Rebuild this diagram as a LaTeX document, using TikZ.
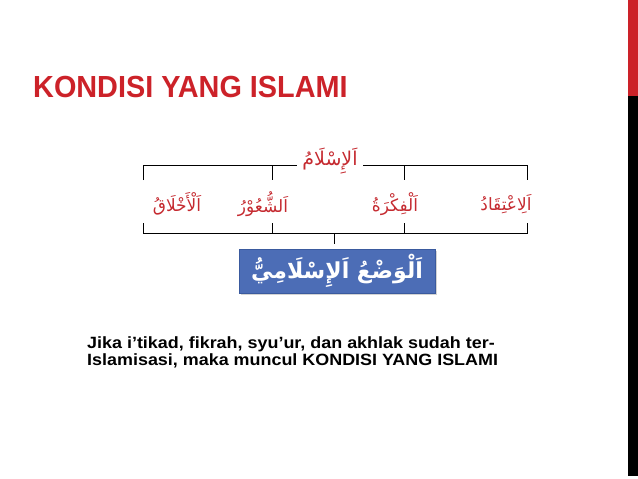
\documentclass[tikz,border=0pt]{standalone}
\usepackage{fontspec}
\setmainfont{Liberation Sans}
\newfontfamily\arabicfont[Script=Arabic]{DejaVu Sans}
\TeXXeTstate=1
\usetikzlibrary{shadows}
\definecolor{titlered}{HTML}{CC2229}
\definecolor{arred}{HTML}{C52A30}
\definecolor{boxblue}{HTML}{4C6DB6}
\definecolor{boxedge}{HTML}{3A5A9E}
\tikzset{
  arlabel/.style={text=arred, inner sep=1pt, font=\arabicfont\fontsize{17}{19}\selectfont},
  bracket/.style={draw=black, line width=0.9pt},
  wadhbox/.style={fill=boxblue, draw=boxedge, line width=0.6pt, text=white,
    minimum width=196pt, minimum height=44pt, inner sep=0pt,
    drop shadow={shadow xshift=1.5pt, shadow yshift=-1.5pt, opacity=0.35},
    font=\arabicfont\bfseries\fontsize{22}{24}\selectfont},
}
\begin{document}
\begin{tikzpicture}[x=1pt,y=-1pt]
\useasboundingbox (0,0) rectangle (638,479);
% right bar
\fill[titlered] (628,0) rectangle (638,96);
\fill[black] (628,96) rectangle (638,476);
% title
\node[anchor=base west, inner sep=0pt, text=titlered, font=\fontsize{30.5}{32}\selectfont\bfseries] (title) at (33,97) {\scalebox{0.945}[1]{KONDISI YANG ISLAMI}};
% top label
\node[arlabel, font=\arabicfont\fontsize{19}{21}\selectfont] (islam) at (330,161) {\beginR اَلإِسْلَامُ\endR};
% four labels
\node[arlabel] (itiqad) at (506,204) {\beginR اَلِاعْتِقَادُ\endR};
\node[arlabel] (fikrah) at (395,204) {\beginR اَلْفِكْرَةُ\endR};
\node[arlabel] (syuur) at (263,204) {\beginR اَلشُّعُوْرُ\endR};
\node[arlabel] (akhlak) at (177,204) {\beginR اَلْأَخْلَاقُ\endR};
% bracket coordinates
\coordinate (tl) at (143,165);
\coordinate (tr) at (527,165);
\coordinate (tgl) at (297,165);
\coordinate (tgr) at (363,165);
\coordinate (t1) at (143,180);
\coordinate (t2) at (272,180);
\coordinate (t3) at (404,180);
\coordinate (t4) at (527,180);
\coordinate (t2u) at (272,165);
\coordinate (t3u) at (404,165);
\coordinate (b1) at (143,223);
\coordinate (b2) at (272,223);
\coordinate (b3) at (404,223);
\coordinate (b4) at (527,223);
\coordinate (bl) at (143,233);
\coordinate (br) at (527,233);
\coordinate (b2d) at (272,233);
\coordinate (b3d) at (404,233);
\coordinate (sa) at (334,233);
\coordinate (sb) at (334,244);
\draw[bracket] (t1) -- (tl) -- (tgl);
\draw[bracket] (tgr) -- (tr) -- (t4);
\draw[bracket] (t2u) -- (t2);
\draw[bracket] (t3u) -- (t3);
\draw[bracket] (b1) -- (bl) -- (br) -- (b4);
\draw[bracket] (b2) -- (b2d);
\draw[bracket] (b3) -- (b3d);
\draw[bracket] (sa) -- (sb);
% box
\node[wadhbox] (wadh) at (337,271) {\beginR اَلْوَضْعُ اَلإِسْلَامِيُّ\endR};
% body text
\node[anchor=base west, inner sep=0pt, align=left, font=\fontsize{16.3}{17}\selectfont\bfseries] (body) at (87,365)
  {\scalebox{1.1}[1]{Jika i’tikad, fikrah, syu’ur, dan akhlak sudah ter-}\\\scalebox{1.1}[1]{Islamisasi, maka muncul KONDISI YANG ISLAMI}};
\end{tikzpicture}
\end{document}
